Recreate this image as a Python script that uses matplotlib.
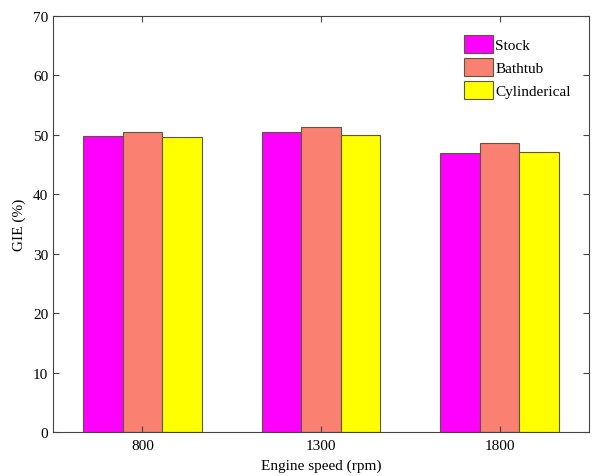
import matplotlib
matplotlib.use("Agg")
import matplotlib.pyplot as plt
import numpy as np

plt.rcParams['font.family'] = ['Liberation Serif', 'DejaVu Serif']

speeds = ["800", "1300", "1800"]
series_names = ["Stock", "Bathtub", "Cylinderical"]
stock = [49.8, 50.5, 46.9]
bathtub = [50.4, 51.4, 48.6]
cylinderical = [49.7, 50.0, 47.1]
colors = ["#FF00FF", "#FA8072", "#FFFF00"]

fig = plt.figure(figsize=(5.92, 4.77), dpi=100)
ax = fig.add_axes([53/592, 1-433/477, 536/592, 416/477])

x = np.arange(1, len(speeds) + 1)
width = 0.222
for i, (vals, name, c) in enumerate(zip([stock, bathtub, cylinderical], series_names, colors)):
    ax.bar(x + (i - 1) * width, vals, width, color=c, edgecolor="#5a5a3a",
           linewidth=0.8, label=name)

ax.set_xlim(0.5, 3.5)
ax.set_ylim(0, 70)
ax.set_xticks(x)
ax.set_xticklabels(speeds)
ax.set_yticks(np.arange(0, 71, 10))
ax.tick_params(direction="in", top=True, right=True, labelsize=11, length=4,
               color="#444444")
ax.tick_params(axis="x", pad=5)
for s in ax.spines.values():
    s.set_color("#444444")
    s.set_linewidth(0.8)

ax.set_xlabel("Engine speed (rpm)", fontsize=11, labelpad=5)
ax.set_ylabel("GIE (%)", fontsize=11, labelpad=5)

leg = ax.legend(loc="upper left", bbox_to_anchor=(405/536, 1 - 13/416), frameon=False,
                fontsize=11, handlelength=1.9, handleheight=1.4,
                handletextpad=0.15, labelspacing=0.35, borderaxespad=0.0)

fig.savefig("out.png", dpi=100)
